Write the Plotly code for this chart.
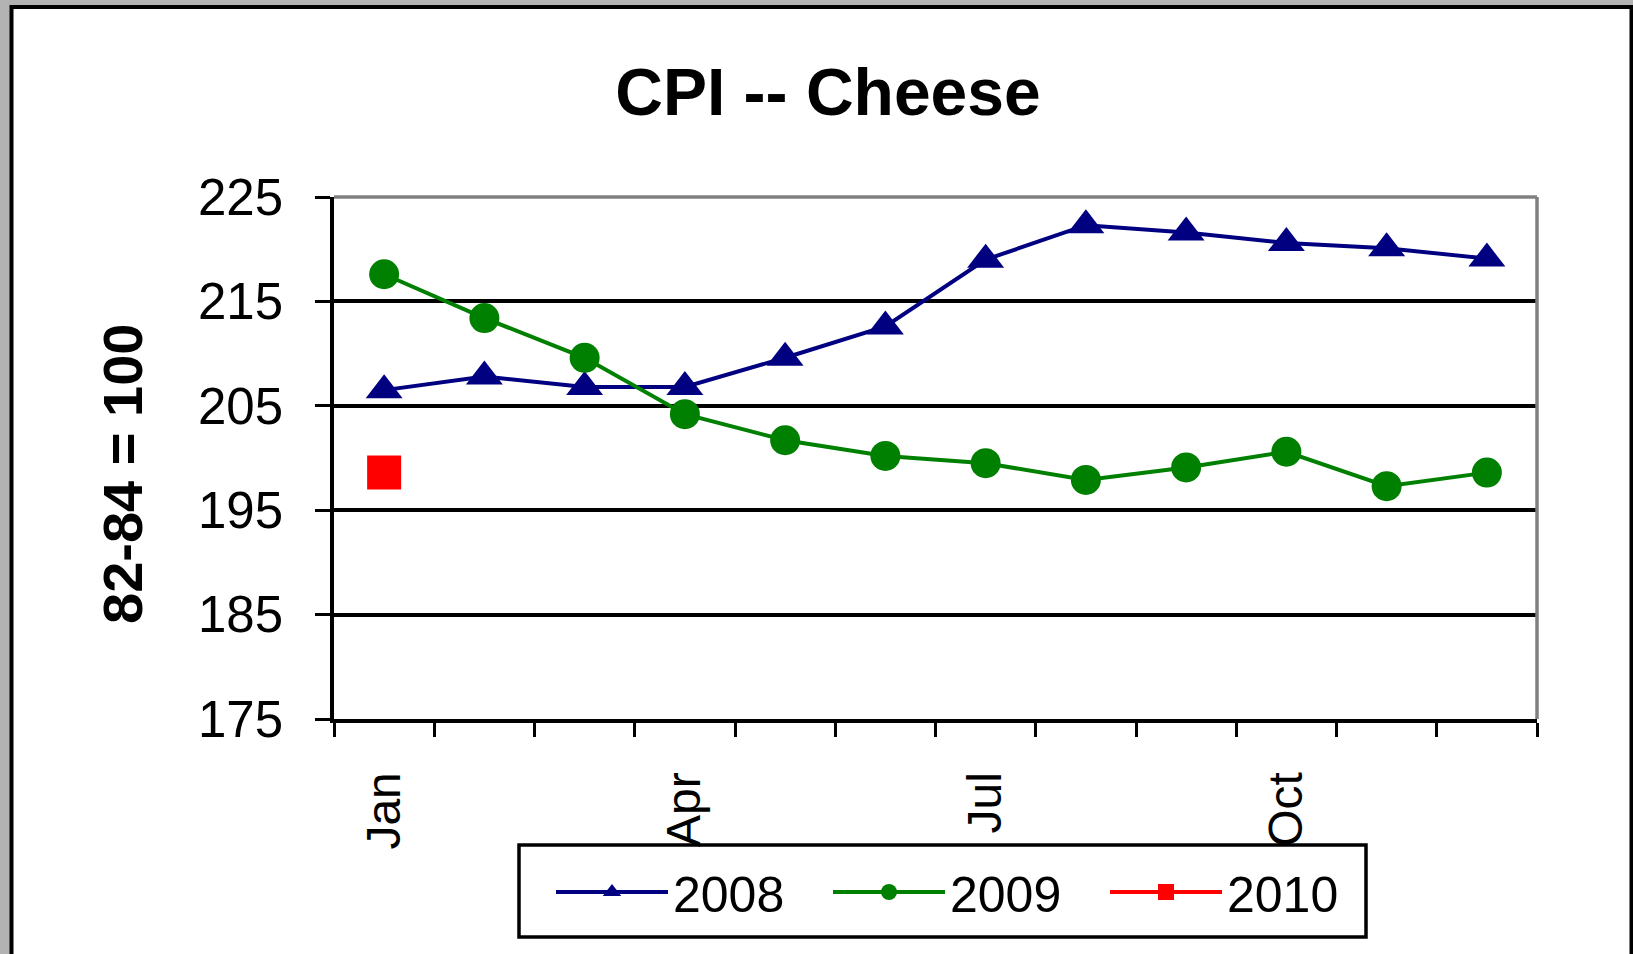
import plotly.graph_objects as go

MONTHS = ["Jan", "Feb", "Mar", "Apr", "May", "Jun",
          "Jul", "Aug", "Sep", "Oct", "Nov", "Dec"]
MONTH_LABELS = ["Jan", "", "", "Apr", "", "", "Jul", "", "", "Oct", "", ""]

CPI_2008 = [206.5, 207.8, 206.8, 206.8, 209.6, 212.6,
            219.0, 222.3, 221.6, 220.6, 220.1, 219.1]
CPI_2009 = [217.6, 213.4, 209.6, 204.2, 201.7, 200.2,
            199.5, 197.9, 199.1, 200.6, 197.3, 198.6]
CPI_2010 = [198.6]

Y_TICKS = [175, 185, 195, 205, 215, 225]

FONT = "Liberation Sans, Arial, sans-serif"

# plot area in pixels (used to place the frame and legend box)
L, R, T, B = 334, 96, 197, 235
W, H = 1633, 954
PW, PH = W - L - R, H - T - B


def px_x(x):
    return (x - L) / PW


def px_y(y):
    return (H - B - y) / PH


fig = go.Figure()
fig.add_trace(go.Scatter(
    x=MONTHS, y=CPI_2008, name="2008", mode="lines+markers",
    line=dict(color="#000080", width=4),
    marker=dict(symbol="triangle-up", size=32, color="#000080"),
))
fig.add_trace(go.Scatter(
    x=MONTHS, y=CPI_2009, name="2009", mode="lines+markers",
    line=dict(color="#008000", width=4),
    marker=dict(symbol="circle", size=30, color="#008000"),
))
fig.add_trace(go.Scatter(
    x=MONTHS[:len(CPI_2010)], y=CPI_2010, name="2010", mode="lines+markers",
    line=dict(color="#ff0000", width=4),
    marker=dict(symbol="square", size=34, color="#ff0000"),
))

shapes = [
    # white card with black border on a grey page
    dict(type="rect", xref="paper", yref="paper", layer="below",
         x0=px_x(11.5), x1=px_x(1631.5), y0=px_y(7), y1=px_y(980),
         fillcolor="white", line=dict(color="black", width=4)),
    # legend box
    dict(type="rect", xref="paper", yref="paper", layer="below",
         x0=px_x(519), x1=px_x(1366), y0=px_y(845), y1=px_y(937),
         fillcolor="white", line=dict(color="black", width=3.5)),
    # grey top and right edges of the plot area
    dict(type="line", xref="paper", yref="paper", layer="above",
         x0=0, x1=1, y0=1, y1=1, line=dict(color="#808080", width=3.5)),
    dict(type="line", xref="paper", yref="paper", layer="above",
         x0=1, x1=1, y0=0, y1=1, line=dict(color="#808080", width=3.5)),
]

fig.update_layout(
    width=W, height=H,
    paper_bgcolor="#b3b3b3",
    plot_bgcolor="white",
    margin=dict(l=L, r=R, t=T, b=B, pad=0),
    font=dict(family=FONT, color="black"),
    title=dict(text="<b>CPI -- Cheese</b>", x=828 / W,
               xanchor="center", y=1 - 92 / H, yanchor="middle",
               font=dict(size=66, family=FONT)),
    shapes=shapes,
    annotations=[dict(
        text="<b>82-84 = 100</b>", textangle=-90,
        xref="paper", yref="paper", x=px_x(122), y=px_y(474),
        xanchor="center", yanchor="middle", showarrow=False,
        font=dict(size=56, family=FONT),
    )],
    showlegend=True,
    legend=dict(
        orientation="h", x=px_x(551), xanchor="left", y=px_y(853), yanchor="top",
        bgcolor="rgba(0,0,0,0)", borderwidth=0,
        font=dict(size=50, family=FONT), itemwidth=112,
        entrywidth=150, entrywidthmode="pixels",
    ),
    xaxis=dict(
        type="category", categoryorder="array", categoryarray=MONTHS,
        tickmode="array", tickvals=MONTHS, ticktext=MONTH_LABELS,
        tickson="boundaries", range=[-0.5, 11.5],
        showline=True, linecolor="black", linewidth=4,
        ticks="outside", ticklen=14, tickwidth=3, tickcolor="black",
        tickangle=-90, tickfont=dict(size=48), ticklabelstandoff=30,
        showgrid=False, zeroline=False,
    ),
    yaxis=dict(
        range=[175, 225], tickvals=Y_TICKS,
        showline=True, linecolor="black", linewidth=3.5,
        ticks="outside", ticklen=15, tickwidth=3, tickcolor="black",
        tickfont=dict(size=51), ticklabelstandoff=22,
        showgrid=True, gridcolor="black", gridwidth=3.5, zeroline=False,
    ),
)

fig.write_html("out.html", config=dict(displayModeBar=False),
               post_script="document.body.style.margin='0px';")
